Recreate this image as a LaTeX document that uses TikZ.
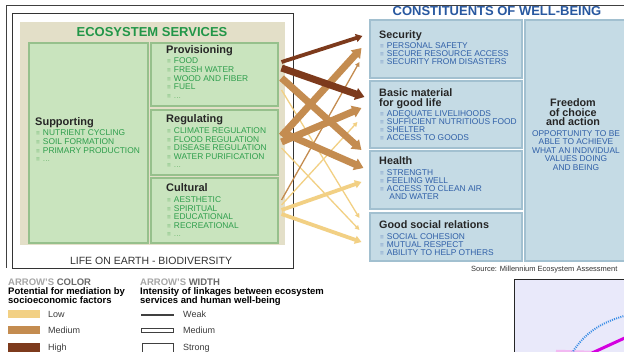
\documentclass[tikz,border=0pt]{standalone}
\usepackage{fontspec}
\setmainfont{Liberation Sans}
\usetikzlibrary{arrows.meta,calc}

% palette
\definecolor{panelbeige}{RGB}{227,223,200}
\definecolor{svcfill}{RGB}{201,228,190}
\definecolor{svcedge}{RGB}{150,192,140}
\definecolor{svcgreen}{RGB}{34,150,72}
\definecolor{svcitem}{RGB}{46,158,76}
\definecolor{svcbullet}{RGB}{120,188,120}
\definecolor{wbfill}{RGB}{197,219,229}
\definecolor{wbedge}{RGB}{162,192,208}
\definecolor{wbtitle}{RGB}{40,88,160}
\definecolor{wbitem}{RGB}{48,96,168}
\definecolor{wbbullet}{RGB}{120,152,198}
\definecolor{lowc}{RGB}{242,208,132}
\definecolor{medc}{RGB}{196,140,80}
\definecolor{highc}{RGB}{125,58,28}
\definecolor{inkgray}{RGB}{60,60,60}
\definecolor{softgray}{RGB}{165,165,165}
\definecolor{midgray}{RGB}{105,105,105}
\definecolor{plotbg}{RGB}{233,233,250}
\definecolor{plotblue}{RGB}{58,142,230}
\definecolor{plotmag}{RGB}{212,0,224}
\definecolor{plotpink}{RGB}{242,185,242}

% small list bullets
\newcommand\svcbul{{\color{svcbullet}\fontsize{6.5}{6}\selectfont ≡}\hspace{3pt}}
\newcommand\wbbul{{\color{wbbullet}\fontsize{6.5}{6}\selectfont ≡}\hspace{3pt}}

% a column of list lines: name prefix, x, first baseline, step, style, items
\newcommand\listcol[6]{%
  \foreach \t [count=\i] in {#6} {%
    \node[#5, name=#1\i] at (#2, {#3+#4*(\i-1)}) {\t};}}

\tikzset{
  svcbox/.style={draw=svcedge, line width=1.1pt, fill=svcfill, inner sep=0pt},
  wbbox/.style={draw=wbedge, line width=1.1pt, fill=wbfill, inner sep=0pt},
  svctitle/.style={anchor=base west, inner sep=0pt, font=\fontsize{11}{12}\selectfont\bfseries, text=black!85},
  wbtitlefont/.style={anchor=base west, inner sep=0pt, font=\fontsize{10.8}{11}\selectfont\bfseries, text=black!85},
  svcline/.style={anchor=base west, inner sep=0pt, font=\fontsize{8.4}{8}\selectfont, text=svcitem,
    execute at begin node=\svcbul},
  wbline/.style={anchor=base west, inner sep=0pt, font=\fontsize{8.4}{8}\selectfont, text=wbitem,
    execute at begin node=\wbbul},
  centerline/.style={anchor=base, inner sep=0pt, font=\fontsize{8.4}{8}\selectfont, text=wbitem},
  legendhead/.style={anchor=base west, inner sep=0pt, font=\fontsize{9.5}{10}\selectfont\bfseries},
  legendlabel/.style={anchor=base west, inner sep=0pt, font=\fontsize{9}{10}\selectfont, text=inkgray},
  weakarr/.style={line width=1.3pt, -{Triangle[width=4.5pt,length=4.5pt]}},
  medarr/.style={line width=3.8pt, -{Triangle[width=8pt,length=6.5pt]}},
  strongarr/.style={line width=7pt, -{Triangle[width=12pt,length=9pt]}},
}

\begin{document}
\begin{tikzpicture}[x=1pt,y=-1pt]
\useasboundingbox (0,0) rectangle (624,352);
\fill[white] (0,0) rectangle (624,352);

% outer frame edges
\draw[line width=0.9pt, black!75] (6,5.5) -- (624,5.5);
\draw[line width=0.9pt, black!75] (6,5.5) -- (6,268);

% ecosystem services frame and panel
\node[draw=black!80, line width=0.9pt, fill=white, minimum width=281pt, minimum height=255pt, inner sep=0pt] (esframe) at (152.5,140.5) {};
\node[fill=panelbeige, minimum width=265pt, minimum height=223pt, inner sep=0pt] (panel) at (152.5,133.5) {};
\node[anchor=base, inner sep=0pt, font=\fontsize{13}{14}\selectfont\bfseries, text=svcgreen] (estitle) at (152,36.5) {ECOSYSTEM SERVICES};
\node[anchor=base, inner sep=0pt, font=\fontsize{10.5}{12}\selectfont, text=black!80] (earth) at (151,265) {LIFE ON EARTH - BIODIVERSITY};

% service boxes
\node[svcbox, minimum width=119pt, minimum height=200pt] (supp) at (88.5,143) {};
\node[svcbox, minimum width=127pt, minimum height=63pt] (prov) at (214.5,74.5) {};
\node[svcbox, minimum width=127pt, minimum height=65pt] (reg) at (214.5,142.5) {};
\node[svcbox, minimum width=127pt, minimum height=65pt] (cult) at (214.5,210.5) {};

\node[svctitle] (supptitle) at (35,126) {Supporting};
\listcol{suppi}{36}{135.5}{8.8}{svcline}{NUTRIENT CYCLING,SOIL FORMATION,PRIMARY PRODUCTION,\textcolor{svcbullet}{...}}

\node[svctitle] (provtitle) at (166,54) {Provisioning};
\listcol{provi}{167}{64}{8.6}{svcline}{FOOD,FRESH WATER,WOOD AND FIBER,FUEL,\textcolor{svcbullet}{...}}

\node[svctitle] (regtitle) at (166,123) {Regulating};
\listcol{regi}{167}{133.5}{8.6}{svcline}{CLIMATE REGULATION,FLOOD REGULATION,DISEASE REGULATION,WATER PURIFICATION,\textcolor{svcbullet}{...}}

\node[svctitle] (culttitle) at (166,192) {Cultural};
\listcol{culti}{167}{202.5}{8.6}{svcline}{AESTHETIC,SPIRITUAL,EDUCATIONAL,RECREATIONAL,\textcolor{svcbullet}{...}}

% constituents of well-being
\node[anchor=base, inner sep=0pt, font=\fontsize{13}{13}\selectfont\bfseries, text=wbtitle] (wbhead) at (497,15.5) {CONSTITUENTS OF WELL-BEING};

\node[wbbox, minimum width=152pt, minimum height=58pt] (sec) at (446,49) {};
\node[wbbox, minimum width=152pt, minimum height=67pt] (basic) at (446,114.5) {};
\node[wbbox, minimum width=152pt, minimum height=58pt] (health) at (446,180) {};
\node[wbbox, minimum width=152pt, minimum height=48pt] (social) at (446,237) {};
\node[wbbox, minimum width=110pt, minimum height=241pt] (free) at (580,140.5) {};

\node[wbtitlefont] (sectitle) at (379,39) {Security};
\listcol{seci}{380}{49}{8}{wbline}{PERSONAL SAFETY,SECURE RESOURCE ACCESS,SECURITY FROM DISASTERS}

\node[wbtitlefont] (basictitle) at (379,97) {Basic material};
\node[wbtitlefont] (basictitleb) at (379,106.5) {for good life};
\listcol{basici}{380}{116.5}{8}{wbline}{ADEQUATE LIVELIHOODS,SUFFICIENT NUTRITIOUS FOOD,SHELTER,ACCESS TO GOODS}

\node[wbtitlefont] (healthtitle) at (379,165) {Health};
\listcol{healthi}{380}{175.5}{8}{wbline}{STRENGTH,FEELING WELL,ACCESS TO CLEAN AIR}
\node[anchor=base west, inner sep=0pt, font=\fontsize{8.4}{8}\selectfont, text=wbitem] (healthcont) at (389.2,199.5) {AND WATER};

\node[wbtitlefont] (socialtitle) at (379,229) {Good social relations};
\listcol{sociali}{380}{239.5}{8}{wbline}{SOCIAL COHESION,MUTUAL RESPECT,ABILITY TO HELP OTHERS}

\node[wbtitlefont, anchor=base] (freet1) at (573,107) {Freedom};
\node[wbtitlefont, anchor=base] (freet2) at (573,116.5) {of choice};
\node[wbtitlefont, anchor=base] (freet3) at (573,126) {and action};
\listcol{freei}{576}{136.5}{8.4}{centerline}{OPPORTUNITY TO BE,ABLE TO ACHIEVE,WHAT AN INDIVIDUAL,VALUES DOING,AND BEING}

\node[anchor=base west, inner sep=0pt, font=\fontsize{7.5}{8}\selectfont, text=black!80] (source) at (471,272) {Source: Millennium Ecosystem Assessment};

% linkages: weak ones first, strongest colours on top
\draw[weakarr, lowc] ($(prov.east)+(3,15.5)$) -- ($(social.west)+(-10,-19)$);
\draw[weakarr, lowc] ($(reg.east)+(3,5.5)$) -- ($(social.west)+(-10,-7)$);
\draw[weakarr, lowc] ($(cult.east)+(3,-5.5)$) -- ($(basic.west)+(-12,7.5)$);
\draw[medarr, lowc] ($(cult.east)+(3,-0.5)$) -- ($(health.west)+(-8,2)$);
\draw[medarr, lowc] ($(cult.east)+(3,3.5)$) -- ($(social.west)+(-8,5)$);
\draw[weakarr, medc] ($(cult.east)+(3,-10.5)$) -- ($(sec.west)+(-10,13)$);
\draw[strongarr, medc] ($(reg.east)+(3,-6.5)$) -- ($(sec.west)+(-8,-1)$);
\draw[strongarr, medc] ($(reg.east)+(3,-0.5)$) -- ($(basic.west)+(-8,-6.5)$);
\draw[strongarr, medc] ($(reg.east)+(3,-10.5)$) -- ($(health.west)+(-6,-12)$);
\draw[strongarr, medc] ($(prov.east)+(3,3.5)$) -- ($(health.west)+(-8,-30)$);
\draw[medarr, highc] ($(prov.east)+(3,-12.5)$) -- ($(sec.west)+(-7,-13)$);
\draw[strongarr, highc] ($(prov.east)+(3,-6.5)$) -- ($(basic.west)+(-5,-17.5)$);

% legend: arrow colour
\node[legendhead] (colhead) at (8,286) {\textcolor{softgray}{ARROW'S} \textcolor{midgray}{COLOR}};
\node[legendhead] (colsub1) at (8,295) {Potential for mediation by};
\node[legendhead] (colsub2) at (8,303.5) {socioeconomic factors};
\node[fill=lowc, minimum width=32pt, minimum height=8pt, inner sep=0pt] (swlow) at (24,314) {};
\node[fill=medc, minimum width=32pt, minimum height=8pt, inner sep=0pt] (swmed) at (24,330.5) {};
\node[fill=highc, minimum width=32pt, minimum height=9pt, inner sep=0pt] (swhigh) at (24,347.5) {};
\node[legendlabel] (lbllow) at (48,318) {Low};
\node[legendlabel] (lblmed) at (48,334) {Medium};
\node[legendlabel] (lblhigh) at (48,351) {High};

% legend: arrow width
\node[legendhead] (widhead) at (140,286) {\textcolor{softgray}{ARROW'S} \textcolor{midgray}{WIDTH}};
\node[legendhead] (widsub1) at (140,295) {Intensity of linkages between ecosystem};
\node[legendhead] (widsub2) at (140,303.5) {services and human well-being};
\node[draw=black!75, line width=0.5pt, minimum width=32pt, minimum height=1.4pt, inner sep=0pt] (wdweak) at (157,314.5) {};
\node[draw=black!75, line width=0.5pt, minimum width=32pt, minimum height=4pt, inner sep=0pt] (wdmed) at (157,330.5) {};
\node[draw=black!75, line width=0.5pt, minimum width=31pt, minimum height=10pt, inner sep=0pt] (wdstrong) at (157.5,348.5) {};
\node[legendlabel] (lblweak) at (183,318) {Weak};
\node[legendlabel] (lblmedw) at (183,334) {Medium};
\node[legendlabel] (lblstrong) at (183,351) {Strong};

% corner of the neighbouring chart
\node[draw=black!85, line width=0.9pt, fill=plotbg, minimum width=120pt, minimum height=90pt, inner sep=0pt, anchor=north west] (chart) at (513.5,279) {};
\draw[plotpink, line width=2.5pt] (556,351) -- (593,352);
\draw[plotblue, line width=2pt, dash pattern=on 1pt off 1.2pt] (572,353) .. controls (584,334) and (600,322) .. (628,315);
\draw[plotmag, line width=3pt] (592,353) -- (628,336.5);
\end{tikzpicture}
\end{document}
